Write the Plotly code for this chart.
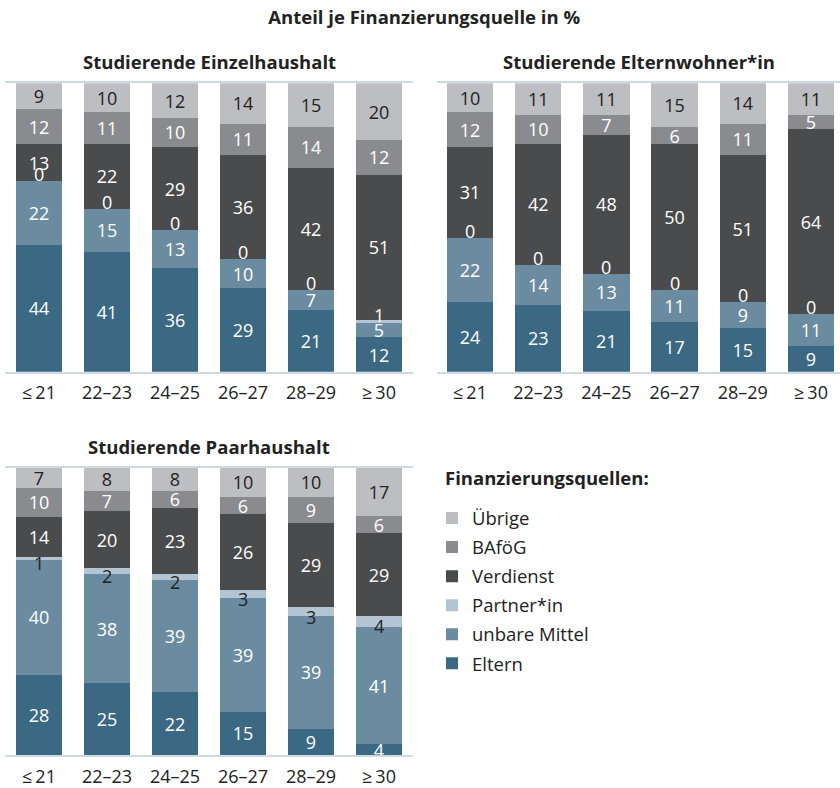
import plotly.graph_objects as go

# ---------------- data ----------------
categories = ["≤\u200921", "22–23", "24–25", "26–27", "28–29", "≥\u200930"]
sources = ["Eltern", "unbare Mittel", "Partner*in", "Verdienst", "BAföG", "Übrige"]

einzel_eltern = [44, 41, 36, 29, 21, 12]
einzel_unbar = [22, 15, 13, 10, 7, 5]
einzel_partner = [0, 0, 0, 0, 0, 1]
einzel_verdienst = [13, 22, 29, 36, 42, 51]
einzel_bafoeg = [12, 11, 10, 11, 14, 12]
einzel_uebrige = [9, 10, 12, 14, 15, 20]

eltern_eltern = [24, 23, 21, 17, 15, 9]
eltern_unbar = [22, 14, 13, 11, 9, 11]
eltern_partner = [0, 0, 0, 0, 0, 0]
eltern_verdienst = [31, 42, 48, 50, 51, 64]
eltern_bafoeg = [12, 10, 7, 6, 11, 5]
eltern_uebrige = [10, 11, 11, 15, 14, 11]

paar_eltern = [28, 25, 22, 15, 9, 4]
paar_unbar = [40, 38, 39, 39, 39, 41]
paar_partner = [1, 2, 2, 3, 3, 4]
paar_verdienst = [14, 20, 23, 26, 29, 29]
paar_bafoeg = [10, 7, 6, 6, 9, 6]
paar_uebrige = [7, 8, 8, 10, 10, 17]

panels = [
    ("Studierende Einzelhaushalt", [einzel_eltern, einzel_unbar, einzel_partner,
                                    einzel_verdienst, einzel_bafoeg, einzel_uebrige]),
    ("Studierende Elternwohner*in", [eltern_eltern, eltern_unbar, eltern_partner,
                                     eltern_verdienst, eltern_bafoeg, eltern_uebrige]),
    ("Studierende Paarhaushalt", [paar_eltern, paar_unbar, paar_partner,
                                  paar_verdienst, paar_bafoeg, paar_uebrige]),
]

colors = ["#3b6883", "#6b8ba1", "#b3c4d2", "#4a4b4d", "#8a8b8f", "#bdbec2"]
DARK = "#222222"
WHITE = "#ffffff"
# label colours per source, per panel
label_colors = [
    [WHITE, WHITE, WHITE, WHITE, WHITE, DARK],
    [WHITE, WHITE, WHITE, WHITE, WHITE, DARK],
    [WHITE, WHITE, DARK, WHITE, WHITE, DARK],
]
PARTNER = 2

FONT = "Open Sans"
LBL = 18
W, H = 840, 788

fig = go.Figure()
for p, (title, series) in enumerate(panels):
    ax = "" if p == 0 else str(p + 1)
    for s, name in enumerate(sources):
        vals = series[s]
        fig.add_trace(go.Bar(
            x=categories, y=vals, name=name,
            xaxis="x" + ax, yaxis="y" + ax,
            marker=dict(color=colors[s], line=dict(width=0)),
            text=None if s == PARTNER else [str(v) for v in vals],
            textposition="inside", insidetextanchor="middle", textangle=0,
            textfont=dict(color=label_colors[p][s], size=LBL, family=FONT),
            legendgroup=name, showlegend=(p == 0), legendrank=10 - s,
            customdata=vals,
            hovertemplate=name + ": %{customdata}<extra></extra>",
        ))
    # Partner*in labels (thin / zero segments) as annotations on the data scale
    totals = [sum(col) for col in zip(*series)]
    for i, cat in enumerate(categories):
        base = series[0][i] + series[1][i]
        mid = (base + series[PARTNER][i] / 2) / totals[i] * 100
        fig.add_annotation(
            x=cat, y=mid, xref="x" + ax, yref="y" + ax,
            text=str(series[PARTNER][i]), showarrow=False,
            yshift=(-5 if p == 2 else 7),
            font=dict(size=LBL, family=FONT, color=label_colors[p][PARTNER]),
        )

def px_x(v):
    return v / W

def px_y(v):
    return 1 - v / H

axis_common = dict(showline=True, mirror=True, linecolor="#cfd9e3", linewidth=2,
                   layer="below traces", ticks="", showgrid=False, zeroline=False,
                   ticklabelstandoff=4,
                   tickfont=dict(size=18, color=DARK, family=FONT), fixedrange=True)
yaxis_common = dict(range=[0, 100], visible=False, fixedrange=True)

fig.update_layout(
    width=W, height=H,
    margin=dict(l=0, r=0, t=0, b=0),
    paper_bgcolor="white", plot_bgcolor="white",
    barmode="stack", barnorm="percent", bargap=0.32,
    font=dict(family=FONT, color=DARK, size=18),
    uniformtext=dict(mode="show", minsize=LBL),
    title=dict(text="<b>Anteil je Finanzierungsquelle in %</b>", x=0.505, xanchor="center",
               xref="container", yref="container", y=px_y(18), yanchor="middle",
               font=dict(size=18.5, family=FONT, color=DARK)),
    xaxis=dict(domain=[px_x(5), px_x(413)], range=[-0.5, 5.5], anchor="y", **axis_common),
    yaxis=dict(domain=[px_y(375), px_y(84)], anchor="x", **yaxis_common),
    xaxis2=dict(domain=[px_x(437), 1.0], range=[-0.484, 5.425], anchor="y2", **axis_common),
    yaxis2=dict(domain=[px_y(375), px_y(84)], anchor="x2", **yaxis_common),
    xaxis3=dict(domain=[px_x(5), px_x(413)], range=[-0.5, 5.5], anchor="y3", **axis_common),
    yaxis3=dict(domain=[px_y(762), px_y(472)], anchor="x3", **yaxis_common),
    legend=dict(
        x=px_x(432), y=px_y(504), xanchor="left", yanchor="top",
        traceorder="grouped", tracegroupgap=2,
        font=dict(size=18.5, family=FONT, color=DARK), bgcolor="rgba(0,0,0,0)",
    ),
    showlegend=True,
)

title_pos = [((5 + 413) / 2, 62), ((437 + 840) / 2, 62), ((5 + 413) / 2, 450)]
for (title, _), (cx, cy) in zip(panels, title_pos):
    fig.add_annotation(text="<b>" + title + "</b>", xref="paper", yref="paper",
                       x=px_x(cx), y=px_y(cy), xanchor="center", yanchor="middle",
                       showarrow=False, font=dict(size=18.5, family=FONT, color=DARK))

# legend heading
fig.add_annotation(text="<b>Finanzierungsquellen:</b>", xref="paper", yref="paper",
                   x=px_x(443), y=px_y(482), xanchor="left", yanchor="middle",
                   showarrow=False, font=dict(size=18.5, family=FONT, color=DARK))

fig.write_html("out.html", config={"displayModeBar": False},
               post_script="document.body.style.margin='0';")
